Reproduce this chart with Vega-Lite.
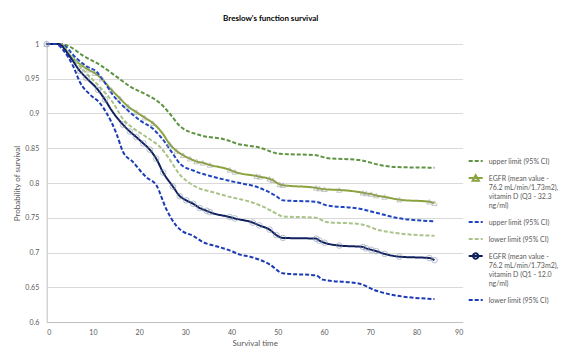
{
  "$schema": "https://vega.github.io/schema/vega-lite/v6.json",
  "width": 416,
  "height": 278,
  "autosize": {"type": "none"},
  "padding": {"left": 46.7, "top": 44, "right": 100.3, "bottom": 29},
  "background": "white",
  "title": {
    "text": "Breslow's function survival",
    "fontSize": 8,
    "font": "Lato",
    "fontWeight": "bold",
    "color": "#000000",
    "anchor": "middle",
    "dx": 16,
    "offset": 17
  },
  "config": {
    "view": {"stroke": null},
    "font": "Lato",
    "axis": {
      "labelFont": "Lato",
      "titleFont": "Lato",
      "labelColor": "#595959",
      "titleColor": "#595959",
      "labelFontSize": 7,
      "titleFontSize": 8,
      "titleFontWeight": "normal",
      "gridColor": "#d9d9d9",
      "gridWidth": 1,
      "domainColor": "#bfbfbf",
      "tickColor": "#bfbfbf",
      "tickSize": 0
    }
  },
  "data": {
    "values": [
      {"s": "Q3U", "t": 0, "v": 1, "c": 0},
      {"s": "Q3U", "t": 3, "v": 1, "c": 0},
      {"s": "Q3U", "t": 5, "v": 0.996, "c": 0},
      {"s": "Q3U", "t": 7.9, "v": 0.983, "c": 0},
      {"s": "Q3U", "t": 11.5, "v": 0.97, "c": 0},
      {"s": "Q3U", "t": 15.1, "v": 0.953, "c": 0},
      {"s": "Q3U", "t": 18, "v": 0.939, "c": 0},
      {"s": "Q3U", "t": 21.6, "v": 0.927, "c": 0},
      {"s": "Q3U", "t": 24.5, "v": 0.915, "c": 0},
      {"s": "Q3U", "t": 26.6, "v": 0.9, "c": 0},
      {"s": "Q3U", "t": 28.8, "v": 0.882, "c": 0},
      {"s": "Q3U", "t": 33.1, "v": 0.869, "c": 0},
      {"s": "Q3U", "t": 38.9, "v": 0.862, "c": 0},
      {"s": "Q3U", "t": 41, "v": 0.857, "c": 0},
      {"s": "Q3U", "t": 46, "v": 0.851, "c": 0},
      {"s": "Q3U", "t": 50.4, "v": 0.842, "c": 0},
      {"s": "Q3U", "t": 58.3, "v": 0.84, "c": 0},
      {"s": "Q3U", "t": 60.5, "v": 0.836, "c": 0},
      {"s": "Q3U", "t": 67.7, "v": 0.833, "c": 0},
      {"s": "Q3U", "t": 72, "v": 0.826, "c": 0},
      {"s": "Q3U", "t": 75.6, "v": 0.823, "c": 0},
      {"s": "Q3U", "t": 83.9, "v": 0.822, "c": 0},

      {"s": "Q3", "t": 0, "v": 1, "c": 1},
      {"s": "Q3", "t": 3, "v": 1, "c": 0},
      {"s": "Q3", "t": 5, "v": 0.984, "c": 0},
      {"s": "Q3", "t": 7, "v": 0.972, "c": 0},
      {"s": "Q3", "t": 9, "v": 0.963, "c": 1},
      {"s": "Q3", "t": 10.4, "v": 0.958, "c": 1},
      {"s": "Q3", "t": 11.9, "v": 0.95, "c": 1},
      {"s": "Q3", "t": 14, "v": 0.934, "c": 1},
      {"s": "Q3", "t": 15.8, "v": 0.922, "c": 1},
      {"s": "Q3", "t": 17.6, "v": 0.91, "c": 1},
      {"s": "Q3", "t": 19.4, "v": 0.902, "c": 1},
      {"s": "Q3", "t": 21.2, "v": 0.894, "c": 1},
      {"s": "Q3", "t": 23, "v": 0.886, "c": 1},
      {"s": "Q3", "t": 25, "v": 0.872, "c": 0},
      {"s": "Q3", "t": 26.6, "v": 0.856, "c": 1},
      {"s": "Q3", "t": 28.1, "v": 0.846, "c": 1},
      {"s": "Q3", "t": 29.5, "v": 0.84, "c": 1},
      {"s": "Q3", "t": 31, "v": 0.835, "c": 1},
      {"s": "Q3", "t": 32.4, "v": 0.831, "c": 1},
      {"s": "Q3", "t": 33.8, "v": 0.829, "c": 1},
      {"s": "Q3", "t": 35.3, "v": 0.826, "c": 1},
      {"s": "Q3", "t": 39.6, "v": 0.819, "c": 1},
      {"s": "Q3", "t": 40.7, "v": 0.816, "c": 1},
      {"s": "Q3", "t": 45.4, "v": 0.81, "c": 1},
      {"s": "Q3", "t": 46.1, "v": 0.809, "c": 1},
      {"s": "Q3", "t": 48.2, "v": 0.806, "c": 1},
      {"s": "Q3", "t": 48.9, "v": 0.804, "c": 1},
      {"s": "Q3", "t": 50.4, "v": 0.798, "c": 1},
      {"s": "Q3", "t": 51.1, "v": 0.797, "c": 1},
      {"s": "Q3", "t": 58.3, "v": 0.793, "c": 1},
      {"s": "Q3", "t": 59, "v": 0.792, "c": 1},
      {"s": "Q3", "t": 60.1, "v": 0.791, "c": 1},
      {"s": "Q3", "t": 63.3, "v": 0.79, "c": 1},
      {"s": "Q3", "t": 68.4, "v": 0.786, "c": 1},
      {"s": "Q3", "t": 69.1, "v": 0.785, "c": 1},
      {"s": "Q3", "t": 70.2, "v": 0.784, "c": 1},
      {"s": "Q3", "t": 71.3, "v": 0.782, "c": 1},
      {"s": "Q3", "t": 73.1, "v": 0.78, "c": 1},
      {"s": "Q3", "t": 76.3, "v": 0.776, "c": 1},
      {"s": "Q3", "t": 82.8, "v": 0.773, "c": 1},
      {"s": "Q3", "t": 83.9, "v": 0.771, "c": 1},

      {"s": "Q1U", "t": 0, "v": 1, "c": 0},
      {"s": "Q1U", "t": 3, "v": 1, "c": 0},
      {"s": "Q1U", "t": 6.5, "v": 0.979, "c": 0},
      {"s": "Q1U", "t": 8.6, "v": 0.968, "c": 0},
      {"s": "Q1U", "t": 10.8, "v": 0.96, "c": 0},
      {"s": "Q1U", "t": 12.2, "v": 0.948, "c": 0},
      {"s": "Q1U", "t": 14.4, "v": 0.926, "c": 0},
      {"s": "Q1U", "t": 17.3, "v": 0.906, "c": 0},
      {"s": "Q1U", "t": 20.2, "v": 0.89, "c": 0},
      {"s": "Q1U", "t": 23, "v": 0.878, "c": 0},
      {"s": "Q1U", "t": 25.2, "v": 0.862, "c": 0},
      {"s": "Q1U", "t": 27.3, "v": 0.842, "c": 0},
      {"s": "Q1U", "t": 28.8, "v": 0.828, "c": 0},
      {"s": "Q1U", "t": 31.7, "v": 0.818, "c": 0},
      {"s": "Q1U", "t": 36, "v": 0.809, "c": 0},
      {"s": "Q1U", "t": 40.3, "v": 0.802, "c": 0},
      {"s": "Q1U", "t": 46, "v": 0.793, "c": 0},
      {"s": "Q1U", "t": 49.7, "v": 0.781, "c": 0},
      {"s": "Q1U", "t": 51.1, "v": 0.775, "c": 0},
      {"s": "Q1U", "t": 58.3, "v": 0.773, "c": 0},
      {"s": "Q1U", "t": 60.5, "v": 0.768, "c": 0},
      {"s": "Q1U", "t": 67.7, "v": 0.763, "c": 0},
      {"s": "Q1U", "t": 72, "v": 0.756, "c": 0},
      {"s": "Q1U", "t": 75.6, "v": 0.75, "c": 0},
      {"s": "Q1U", "t": 83.9, "v": 0.745, "c": 0},

      {"s": "Q3L", "t": 0, "v": 1, "c": 0},
      {"s": "Q3L", "t": 3, "v": 1, "c": 0},
      {"s": "Q3L", "t": 4.3, "v": 0.991, "c": 0},
      {"s": "Q3L", "t": 6.5, "v": 0.973, "c": 0},
      {"s": "Q3L", "t": 8.6, "v": 0.958, "c": 0},
      {"s": "Q3L", "t": 11.5, "v": 0.938, "c": 0},
      {"s": "Q3L", "t": 14.4, "v": 0.915, "c": 0},
      {"s": "Q3L", "t": 16.5, "v": 0.892, "c": 0},
      {"s": "Q3L", "t": 18.7, "v": 0.879, "c": 0},
      {"s": "Q3L", "t": 21.6, "v": 0.866, "c": 0},
      {"s": "Q3L", "t": 24.5, "v": 0.852, "c": 0},
      {"s": "Q3L", "t": 26.6, "v": 0.834, "c": 0},
      {"s": "Q3L", "t": 28.8, "v": 0.812, "c": 0},
      {"s": "Q3L", "t": 30.9, "v": 0.8, "c": 0},
      {"s": "Q3L", "t": 33.1, "v": 0.792, "c": 0},
      {"s": "Q3L", "t": 35.3, "v": 0.788, "c": 0},
      {"s": "Q3L", "t": 39.6, "v": 0.78, "c": 0},
      {"s": "Q3L", "t": 44, "v": 0.773, "c": 0},
      {"s": "Q3L", "t": 46.8, "v": 0.766, "c": 0},
      {"s": "Q3L", "t": 49.7, "v": 0.756, "c": 0},
      {"s": "Q3L", "t": 51, "v": 0.752, "c": 0},
      {"s": "Q3L", "t": 58.3, "v": 0.75, "c": 0},
      {"s": "Q3L", "t": 60.5, "v": 0.744, "c": 0},
      {"s": "Q3L", "t": 67.7, "v": 0.741, "c": 0},
      {"s": "Q3L", "t": 72, "v": 0.732, "c": 0},
      {"s": "Q3L", "t": 75.6, "v": 0.728, "c": 0},
      {"s": "Q3L", "t": 83.9, "v": 0.724, "c": 0},

      {"s": "Q1", "t": 0, "v": 1, "c": 1},
      {"s": "Q1", "t": 2.5, "v": 1, "c": 0},
      {"s": "Q1", "t": 5, "v": 0.982, "c": 0},
      {"s": "Q1", "t": 7.2, "v": 0.961, "c": 1},
      {"s": "Q1", "t": 8.6, "v": 0.951, "c": 1},
      {"s": "Q1", "t": 11.1, "v": 0.934, "c": 1},
      {"s": "Q1", "t": 12.6, "v": 0.92, "c": 1},
      {"s": "Q1", "t": 14, "v": 0.905, "c": 0},
      {"s": "Q1", "t": 16.5, "v": 0.884, "c": 1},
      {"s": "Q1", "t": 18, "v": 0.874, "c": 1},
      {"s": "Q1", "t": 19.4, "v": 0.866, "c": 1},
      {"s": "Q1", "t": 20.9, "v": 0.857, "c": 1},
      {"s": "Q1", "t": 22.3, "v": 0.848, "c": 1},
      {"s": "Q1", "t": 23.7, "v": 0.835, "c": 1},
      {"s": "Q1", "t": 25.2, "v": 0.815, "c": 1},
      {"s": "Q1", "t": 27.3, "v": 0.795, "c": 1},
      {"s": "Q1", "t": 28.8, "v": 0.781, "c": 1},
      {"s": "Q1", "t": 30.2, "v": 0.775, "c": 1},
      {"s": "Q1", "t": 31.7, "v": 0.77, "c": 1},
      {"s": "Q1", "t": 33.1, "v": 0.764, "c": 1},
      {"s": "Q1", "t": 34.6, "v": 0.76, "c": 1},
      {"s": "Q1", "t": 35.3, "v": 0.758, "c": 1},
      {"s": "Q1", "t": 39.6, "v": 0.751, "c": 1},
      {"s": "Q1", "t": 40.7, "v": 0.749, "c": 1},
      {"s": "Q1", "t": 44.6, "v": 0.743, "c": 1},
      {"s": "Q1", "t": 46, "v": 0.739, "c": 1},
      {"s": "Q1", "t": 48.2, "v": 0.733, "c": 1},
      {"s": "Q1", "t": 49.7, "v": 0.725, "c": 1},
      {"s": "Q1", "t": 51.1, "v": 0.721, "c": 1},
      {"s": "Q1", "t": 58.3, "v": 0.72, "c": 1},
      {"s": "Q1", "t": 59, "v": 0.717, "c": 1},
      {"s": "Q1", "t": 60.1, "v": 0.714, "c": 1},
      {"s": "Q1", "t": 63.3, "v": 0.71, "c": 1},
      {"s": "Q1", "t": 68.4, "v": 0.708, "c": 1},
      {"s": "Q1", "t": 69.1, "v": 0.706, "c": 1},
      {"s": "Q1", "t": 70.2, "v": 0.704, "c": 1},
      {"s": "Q1", "t": 71.3, "v": 0.702, "c": 1},
      {"s": "Q1", "t": 73.1, "v": 0.698, "c": 1},
      {"s": "Q1", "t": 76.3, "v": 0.694, "c": 1},
      {"s": "Q1", "t": 82.8, "v": 0.692, "c": 1},
      {"s": "Q1", "t": 83.9, "v": 0.689, "c": 1},

      {"s": "Q1L", "t": 0, "v": 1, "c": 0},
      {"s": "Q1L", "t": 2, "v": 1, "c": 0},
      {"s": "Q1L", "t": 3.6, "v": 0.991, "c": 0},
      {"s": "Q1L", "t": 5.8, "v": 0.967, "c": 0},
      {"s": "Q1L", "t": 7.2, "v": 0.945, "c": 0},
      {"s": "Q1L", "t": 9.4, "v": 0.927, "c": 0},
      {"s": "Q1L", "t": 11.5, "v": 0.915, "c": 0},
      {"s": "Q1L", "t": 13, "v": 0.9, "c": 0},
      {"s": "Q1L", "t": 15.1, "v": 0.871, "c": 0},
      {"s": "Q1L", "t": 16.5, "v": 0.845, "c": 0},
      {"s": "Q1L", "t": 18.7, "v": 0.83, "c": 0},
      {"s": "Q1L", "t": 20.2, "v": 0.818, "c": 0},
      {"s": "Q1L", "t": 21.6, "v": 0.808, "c": 0},
      {"s": "Q1L", "t": 23.7, "v": 0.797, "c": 0},
      {"s": "Q1L", "t": 25.9, "v": 0.762, "c": 0},
      {"s": "Q1L", "t": 28.1, "v": 0.738, "c": 0},
      {"s": "Q1L", "t": 29.5, "v": 0.73, "c": 0},
      {"s": "Q1L", "t": 31.7, "v": 0.724, "c": 0},
      {"s": "Q1L", "t": 33.8, "v": 0.715, "c": 0},
      {"s": "Q1L", "t": 36.7, "v": 0.709, "c": 0},
      {"s": "Q1L", "t": 39.6, "v": 0.703, "c": 0},
      {"s": "Q1L", "t": 41.8, "v": 0.697, "c": 0},
      {"s": "Q1L", "t": 44, "v": 0.694, "c": 0},
      {"s": "Q1L", "t": 48.2, "v": 0.683, "c": 0},
      {"s": "Q1L", "t": 51.1, "v": 0.67, "c": 0},
      {"s": "Q1L", "t": 58.3, "v": 0.667, "c": 0},
      {"s": "Q1L", "t": 59.7, "v": 0.661, "c": 0},
      {"s": "Q1L", "t": 67.7, "v": 0.655, "c": 0},
      {"s": "Q1L", "t": 71.3, "v": 0.645, "c": 0},
      {"s": "Q1L", "t": 74.9, "v": 0.639, "c": 0},
      {"s": "Q1L", "t": 83.9, "v": 0.633, "c": 0}
    ]
  },
  "encoding": {
    "x": {
      "field": "t",
      "type": "quantitative",
      "title": "Survival time",
      "scale": {"domain": [0, 90], "nice": false},
      "axis": {
        "values": [0, 10, 20, 30, 40, 50, 60, 70, 80, 90],
        "grid": false,
        "labelPadding": 6,
        "titlePadding": 4
      }
    },
    "y": {
      "field": "v",
      "type": "quantitative",
      "title": "Probability of survival",
      "scale": {"domain": [0.6, 1], "nice": false, "zero": false},
      "axis": {
        "values": [0.6, 0.65, 0.7, 0.75, 0.8, 0.85, 0.9, 0.95, 1],
        "format": "~g",
        "grid": true,
        "labelPadding": 8,
        "titlePadding": 3
      }
    }
  },
  "layer": [
    {
      "mark": {"type": "line", "interpolate": "monotone", "strokeWidth": 2},
      "encoding": {
        "color": {
          "field": "s",
          "type": "nominal",
          "scale": {
            "domain": ["Q3U", "Q3", "Q1U", "Q3L", "Q1", "Q1L"],
            "range": ["#5e9441", "#8ba33e", "#1f45c0", "#aac388", "#10205e", "#1c3ab5"]
          },
          "legend": {
            "title": null,
            "orient": "none",
            "legendX": 421,
            "legendY": 109,
            "symbolSize": 196,
            "symbolStrokeWidth": 2,
            "symbolType": "stroke",
            "labelFont": "Lato",
            "labelFontSize": 7,
            "labelColor": "#595959",
            "labelLimit": 200,
            "labelOffset": 5,
            "rowPadding": 5,
            "labelBaseline": "alphabetic",
            "labelExpr": "datum.value == 'Q3' ? ['EGFR (mean value -', '76.2 mL/min/1.73m2),', 'vitamin D (Q3 - 32.3', 'ng/ml)'] : datum.value == 'Q1' ? ['EGFR (mean value -', '76.2 mL/min/1.73m2),', 'vitamin D (Q1 - 12.0', 'ng/ml)'] : (datum.value == 'Q3U' || datum.value == 'Q1U') ? 'upper limit (95% CI)' : 'lower limit (95% CI)'",
            "encode": {
              "symbols": {
                "update": {
                  "shape": {"signal": "datum.value == 'Q3' ? 'M-1,0H1M-0.45,0.4L0,-0.4L0.45,0.4Z' : datum.value == 'Q1' ? 'M-1,0H1M0.38,0A0.38,0.38,0,1,1,-0.38,0A0.38,0.38,0,1,1,0.38,0' : 'stroke'"},
                  "fill": {"value": "transparent"}
                }
              },
              "labels": {
                "update": {"dy": {"value": 2.5}}
              }
            }
          }
        },
        "strokeDash": {
          "field": "s",
          "type": "nominal",
          "scale": {
            "domain": ["Q3U", "Q3", "Q1U", "Q3L", "Q1", "Q1L"],
            "range": [[4, 2], [1, 0], [4, 2], [4, 2], [1, 0], [4, 2]]
          },
          "legend": null
        }
      }
    },
    {
      "transform": [{"filter": "datum.s == 'Q3' && datum.c == 1"}],
      "mark": {"type": "point", "shape": "triangle-up", "filled": false, "size": 28, "strokeWidth": 0.8, "color": "#9a9a9a"}
    },
    {
      "transform": [{"filter": "datum.s == 'Q1' && datum.c == 1"}],
      "mark": {"type": "point", "shape": "circle", "filled": false, "size": 32, "strokeWidth": 0.8, "color": "#7f8fa8"}
    }
  ]
}
